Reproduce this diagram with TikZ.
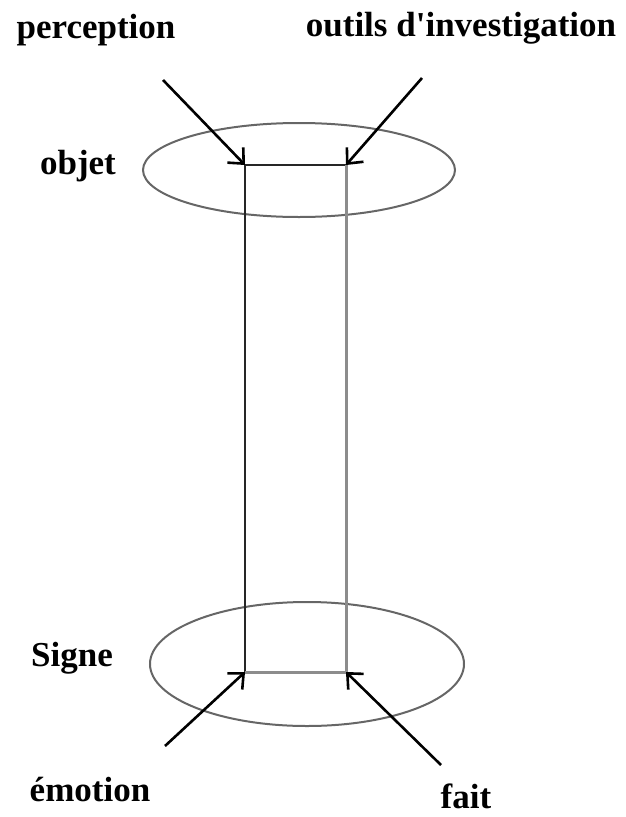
\documentclass[tikz,border=0pt]{standalone}
\usepackage{fontspec}
\setmainfont{Liberation Serif}[Ligatures=TeXOff]
\usetikzlibrary{arrows.meta}
\begin{document}
\begin{tikzpicture}[x=1pt,y=-1pt,
  lbl/.style={font=\fontsize{35}{40}\selectfont\bfseries, inner sep=0pt},
  arr/.style={line width=2.6pt, -{Straight Barb[length=12pt,width=22pt,line width=2.6pt]}},
  ell/.style={draw=black!60, line width=2pt},
  dark/.style={draw=black!85, line width=2pt},
  gray/.style={draw=black!45, line width=3pt}]
\useasboundingbox (0,0) rectangle (626,817);
% ellipses
\draw[ell] (299,170) ellipse [x radius=156, y radius=47];
\draw[ell] (307,664) ellipse [x radius=157, y radius=62];
% corner coordinates
\coordinate (tl) at (245,165);
\coordinate (tr) at (346,165);
\coordinate (bl) at (245,672);
\coordinate (br) at (346,672);
\draw[dark, line width=2.6pt] (tl) -- (tr);
\draw[dark] (tl) -- (bl);
\draw[gray] (tr) -- (br);
\draw[gray] (bl) -- (br);
% labels
\node[lbl] (perc) at (96,30) {perception};
\node[lbl] (outils) at (461,28) {outils d'investigation};
\node[lbl] (objet) at (78,166) {objet};
\node[lbl] (signe) at (72,658) {Signe};
\node[lbl] (emo) at (90,790) {émotion};
\node[lbl] (fait) at (466,796) {fait};
% arrow tails
\coordinate (pa) at (163,80);
\coordinate (oa) at (422,78);
\coordinate (ea) at (165,746);
\coordinate (fa) at (441,765);
\draw[arr] (pa) -- (tl);
\draw[arr] (oa) -- (tr);
\draw[arr] (ea) -- (bl);
\draw[arr] (fa) -- (br);
\end{tikzpicture}
\end{document}
